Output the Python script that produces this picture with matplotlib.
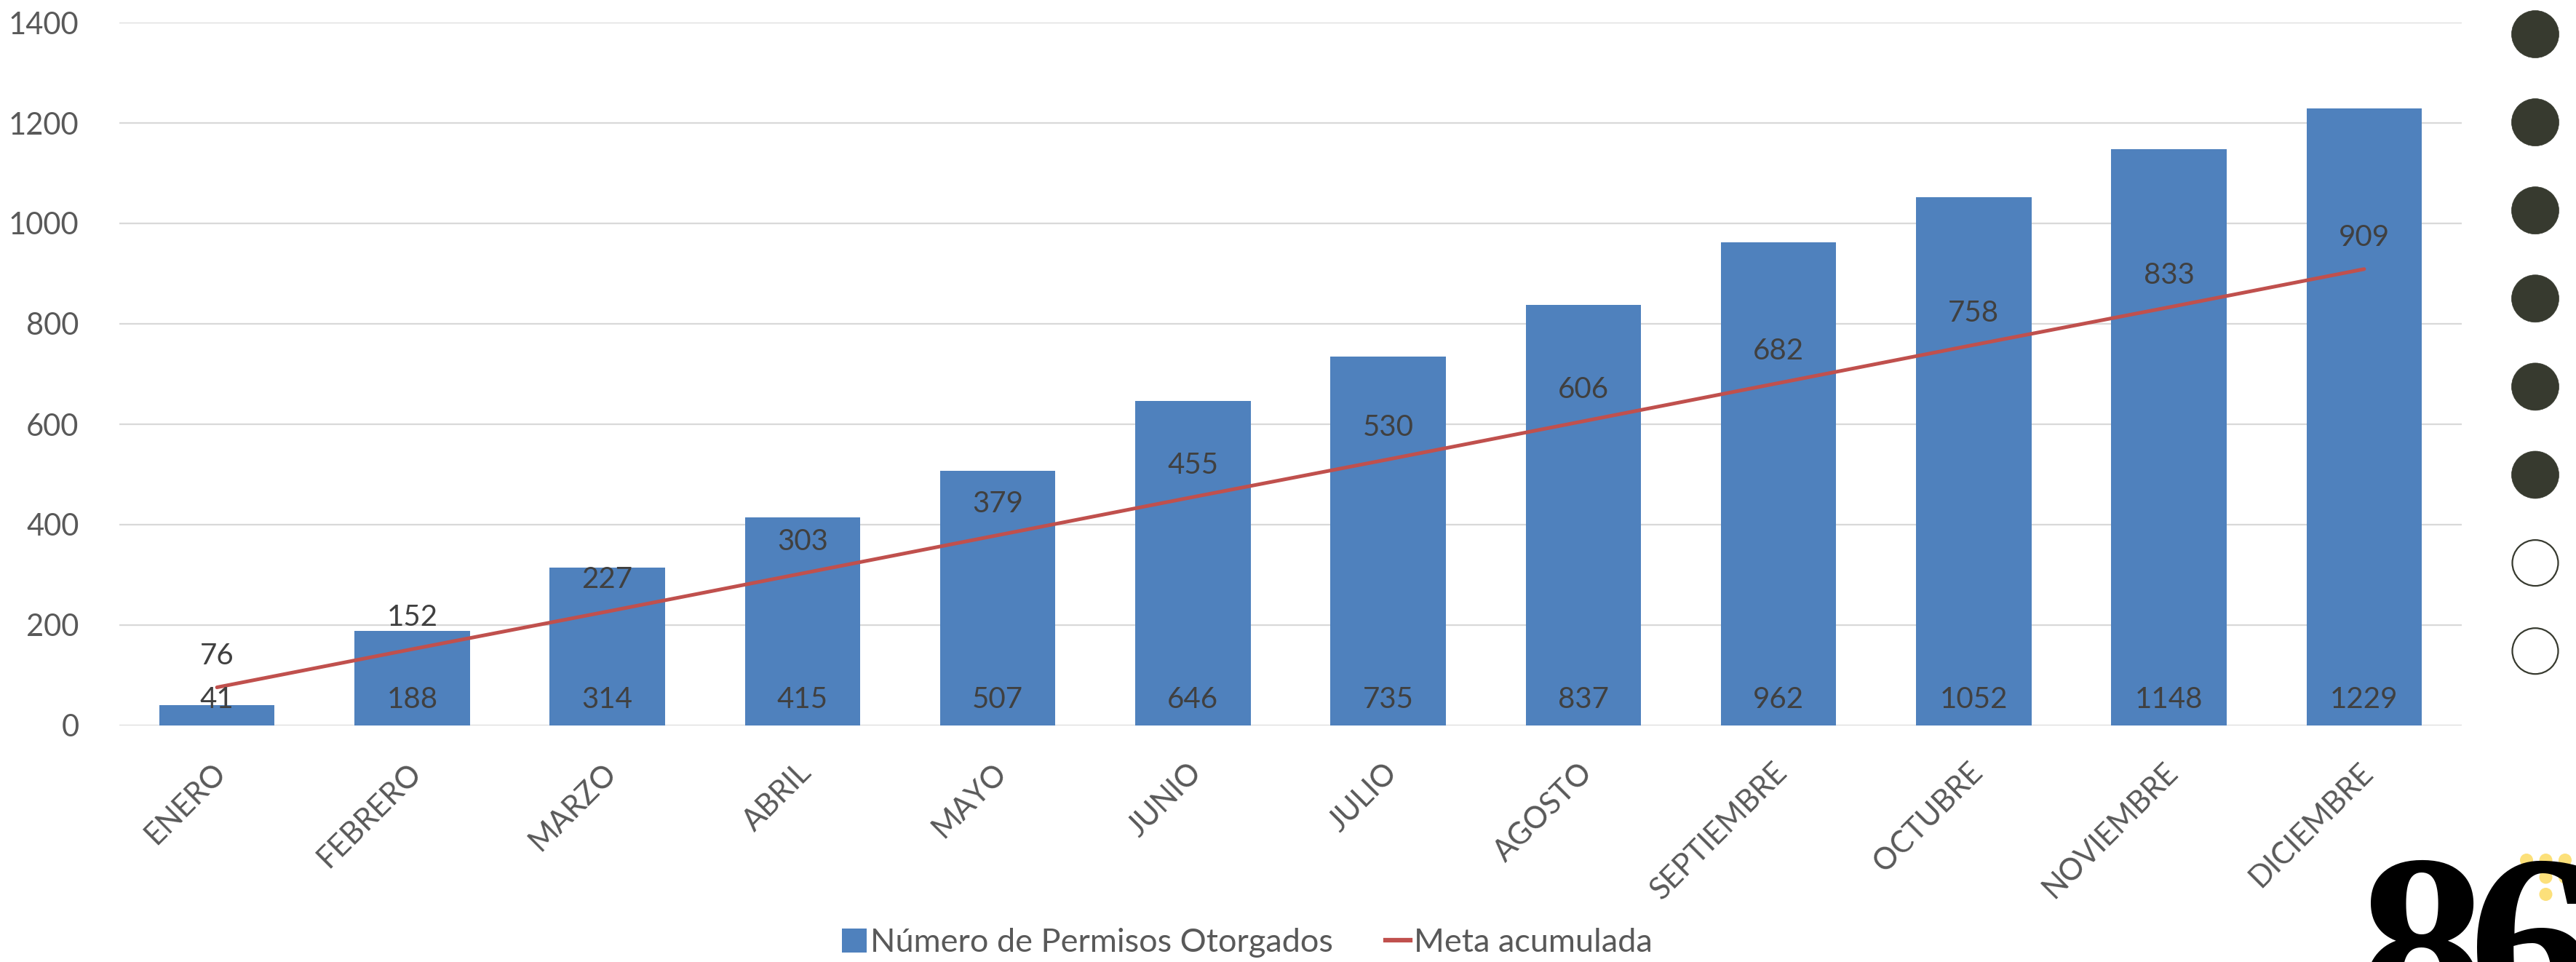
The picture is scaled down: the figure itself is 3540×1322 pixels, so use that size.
import matplotlib
matplotlib.use("Agg")
import matplotlib.pyplot as plt
from matplotlib.patches import Patch, Circle
from matplotlib.lines import Line2D
from matplotlib.transforms import ScaledTranslation

plt.rcParams['font.family'] = ['Lato', 'DejaVu Sans']

# datos
meses = ['ENERO', 'FEBRERO', 'MARZO', 'ABRIL', 'MAYO', 'JUNIO', 'JULIO',
         'AGOSTO', 'SEPTIEMBRE', 'OCTUBRE', 'NOVIEMBRE', 'DICIEMBRE']
permisos = [41, 188, 314, 415, 507, 646, 735, 837, 962, 1052, 1148, 1229]
meta = [76, 152, 227, 303, 379, 455, 530, 606, 682, 758, 833, 909]
y_ticks = [0, 200, 400, 600, 800, 1000, 1200, 1400]
circulos_llenos = [1, 1, 1, 1, 1, 1, 0, 0]
logo_texto = ['8', '6']

BLUE = '#4F81BD'
RED = '#C0504D'
GRID = '#D9D9D9'
TICK = '#595959'
LABEL = '#404040'
DARK = '#373A2F'
YELLOW = '#FCE07A'

W, H, DPI = 3541, 1322, 100
fig = plt.figure(figsize=(W / DPI, H / DPI), dpi=DPI)

# area del grafico (en pixeles)
left, right, top, bottom = 164, 3383, 31, 997
ax = fig.add_axes([left / W, 1 - bottom / H, (right - left) / W, (bottom - top) / H])

x = list(range(len(meses)))
ax.bar(x, permisos, width=0.59, color=BLUE, zorder=2)
ax.plot(x, meta, color=RED, lw=3.6, solid_capstyle='round', zorder=3)

for i, v in enumerate(permisos):
    ax.annotate(str(v), (i, 0), xytext=(0, 17), textcoords='offset points',
                ha='center', va='baseline', fontsize=29, color=LABEL, zorder=4)
for i, v in enumerate(meta):
    ax.annotate(str(v), (i, v), xytext=(0, 23), textcoords='offset points',
                ha='center', va='baseline', fontsize=29, color=LABEL, zorder=4)

ax.set_xlim(-0.5, len(meses) - 0.5)
ax.set_ylim(0, 1400)
ax.set_yticks(y_ticks)
ax.set_yticklabels([str(t) for t in y_ticks])
ax.set_xticks(x)
ax.set_xticklabels(meses, rotation=45, ha='right', va='center', rotation_mode='anchor')
ax.tick_params(axis='y', length=0, pad=40, labelsize=30, labelcolor=TICK)
ax.tick_params(axis='x', length=0, pad=42, labelsize=30, labelcolor=TICK)
for lab in ax.get_xticklabels():
    lab.set_transform(lab.get_transform() + ScaledTranslation(6 / DPI, 0, fig.dpi_scale_trans))

ax.grid(axis='y', color=GRID, lw=1.6, zorder=0)
ax.set_axisbelow(True)
for s in ax.spines.values():
    s.set_visible(False)

handles = [Patch(facecolor=BLUE, edgecolor='none'),
           Line2D([0], [0], color=RED, lw=4.5)]
fig.legend(handles, ['Número de Permisos Otorgados', 'Meta acumulada'],
           loc='center', bbox_to_anchor=(1714 / W, 1 - 1296 / H), ncol=2, frameon=False,
           fontsize=32.5, labelcolor=TICK, handlelength=0.75, handleheight=0.75,
           handletextpad=0.12, columnspacing=1.6)

# decoraciones a la derecha (en pixeles)
deco = fig.add_axes([0, 0, 1, 1], zorder=5)
deco.set_xlim(0, W)
deco.set_ylim(H, 0)
deco.axis('off')
deco.patch.set_alpha(0)

for i, lleno in enumerate(circulos_llenos):
    cy = 47 + i * 121.1
    if lleno:
        deco.add_patch(Circle((3484, cy), 32.5, facecolor=DARK, edgecolor=DARK, lw=0.5))
    else:
        deco.add_patch(Circle((3484, cy), 31.5, facecolor='white', edgecolor=DARK, lw=1.6))

# logo
puntos = [(0, 0), (1, 0), (2, 0), (1, 1), (2, 1), (1, 2)]
for cx, cy in puntos:
    deco.add_patch(Circle((3472 + cx * 26.5, 1182 + cy * 23.5), 9, facecolor=YELLOW,
                          edgecolor='none', zorder=1))
for i, d in enumerate(logo_texto):
    deco.text(3328 + i * 152, 1415, d, ha='center', va='baseline', fontsize=252,
              fontweight='bold', family=['Liberation Serif', 'DejaVu Serif'],
              color='black', zorder=2)

fig.savefig('out.png', dpi=DPI)
